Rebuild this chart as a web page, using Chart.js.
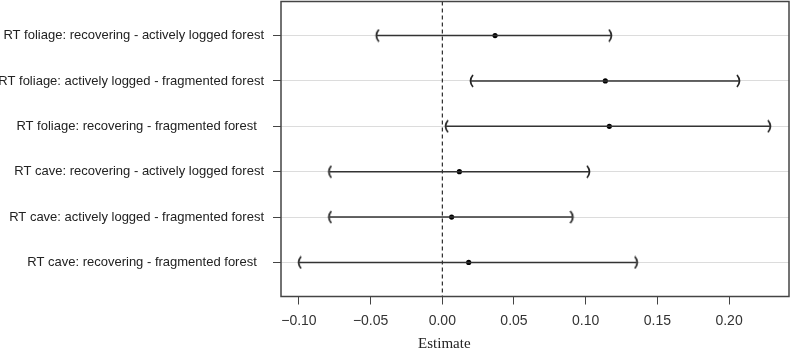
<!DOCTYPE html>
<html>
<head>
<meta charset="utf-8">
<script src="https://cdn.jsdelivr.net/npm/chart.js@4/dist/chart.umd.min.js"></script>
<style>
  html, body { margin: 0; padding: 0; background: #fff; }
  #wrap { width: 791px; height: 350px; position: relative; }
</style>
</head>
<body>
<div id="wrap"><canvas id="c" width="791" height="350"></canvas></div>
<script>
// ---- data ----
const categories = [
  'RT foliage: recovering - actively logged forest',
  'RT foliage: actively logged - fragmented forest',
  'RT foliage: recovering - fragmented forest  ',
  'RT cave: recovering - actively logged forest',
  'RT cave: actively logged - fragmented forest',
  'RT cave: recovering - fragmented forest  '
];
const estimate = [0.0368, 0.1137, 0.1165, 0.0119, 0.0065, 0.0184];
const lower    = [-0.0457, 0.0200, 0.0026, -0.0788, -0.0788, -0.0999];
const upper    = [0.1176, 0.2069, 0.2285, 0.1023, 0.0907, 0.1356];
const xTicks   = [-0.10, -0.05, 0.00, 0.05, 0.10, 0.15, 0.20];
const refValue = 0;
const xTitle   = 'Estimate';

// ---- bracket point styles ----
function bracket(open) {
  const c = document.createElement('canvas');
  c.width = 6; c.height = 14;
  const g = c.getContext('2d');
  g.strokeStyle = '#222';
  g.lineWidth = 1.7;
  g.beginPath();
  if (open) { g.moveTo(5, 1); g.quadraticCurveTo(0, 7, 5, 13); }
  else      { g.moveTo(1, 1); g.quadraticCurveTo(6, 7, 1, 13); }
  g.stroke();
  return c;
}
const openBr = bracket(true), closeBr = bracket(false);

const rows = categories.map((_, i) => i);
const datasets = [];
rows.forEach(i => {
  datasets.push({
    type: 'line', showLine: true,
    data: [{x: lower[i], y: i}, {x: upper[i], y: i}],
    borderColor: '#333', borderWidth: 1.5, pointRadius: 0
  });
});
datasets.push({
  type: 'line', showLine: true,
  data: [{x: refValue, y: -0.75}, {x: refValue, y: 5.75}],
  borderColor: '#000', borderWidth: 1, borderDash: [4, 3], pointRadius: 0
});
datasets.push({
  data: rows.map(i => ({x: lower[i], y: i})),
  pointStyle: openBr, pointRadius: 6
});
datasets.push({
  data: rows.map(i => ({x: upper[i], y: i})),
  pointStyle: closeBr, pointRadius: 6
});
datasets.push({
  data: rows.map(i => ({x: estimate[i], y: i})),
  pointStyle: 'circle', pointRadius: 2.6,
  backgroundColor: '#000', borderColor: '#000', borderWidth: 0
});

const boxPlugin = {
  id: 'box',
  afterDatasetsDraw(chart) {
    const {ctx, chartArea: a} = chart;
    ctx.save();
    ctx.strokeStyle = '#444';
    ctx.lineWidth = 1.5;
    ctx.strokeRect(a.left, a.top, a.right - a.left, a.bottom - a.top);
    ctx.restore();
  },
  afterDraw(chart) {
    const {ctx} = chart;
    const xs = chart.scales.x;
    ctx.save();
    ctx.fillStyle = '#222';
    ctx.font = '15px "Liberation Serif", serif';
    ctx.textAlign = 'center';
    ctx.textBaseline = 'alphabetic';
    ctx.fillText(xTitle, xs.getPixelForValue(refValue) + 2, 348);
    ctx.restore();
  }
};

new Chart(document.getElementById('c'), {
  type: 'scatter',
  data: { datasets },
  plugins: [boxPlugin],
  options: {
    responsive: false,
    animation: false,
    layout: { autoPadding: false, padding: { top: 1.5, right: 2, left: 0, bottom: 0 } },
    plugins: { legend: { display: false }, tooltip: { enabled: false } },
    scales: {
      x: {
        type: 'linear', min: -0.1125, max: 0.2418,
        afterBuildTicks: s => { s.ticks = xTicks.map(v => ({value: v})); },
        afterFit: s => { s.height = 53.5; s.paddingLeft = 0; s.paddingRight = 0; },
        grid: { drawOnChartArea: false, drawTicks: true, tickLength: 8, tickColor: '#444', tickWidth: 1 },
        border: { display: false },
        ticks: {
          padding: 8, color: '#333', maxRotation: 0, autoSkip: false,
          font: { family: '"Liberation Sans", Arial, sans-serif', size: 14 },
          callback: v => v.toFixed(2).replace('-', '\u2212')
        }
      },
      y: {
        type: 'linear', min: -0.75, max: 5.75, reverse: true,
        afterBuildTicks: s => { s.ticks = rows.map(v => ({value: v})); },
        afterFit: s => { s.width = 281; s.paddingTop = 0; s.paddingBottom = 0; },
        grid: { drawOnChartArea: true, color: '#dcdcdc', lineWidth: 1, tickLength: 8, tickColor: '#444', tickWidth: 1 },
        border: { display: false },
        ticks: {
          padding: 9, color: '#222', autoSkip: false,
          font: { family: '"Liberation Sans", Arial, sans-serif', size: 13 },
          callback: v => categories[v]
        }
      }
    }
  }
});
</script>
</body>
</html>
